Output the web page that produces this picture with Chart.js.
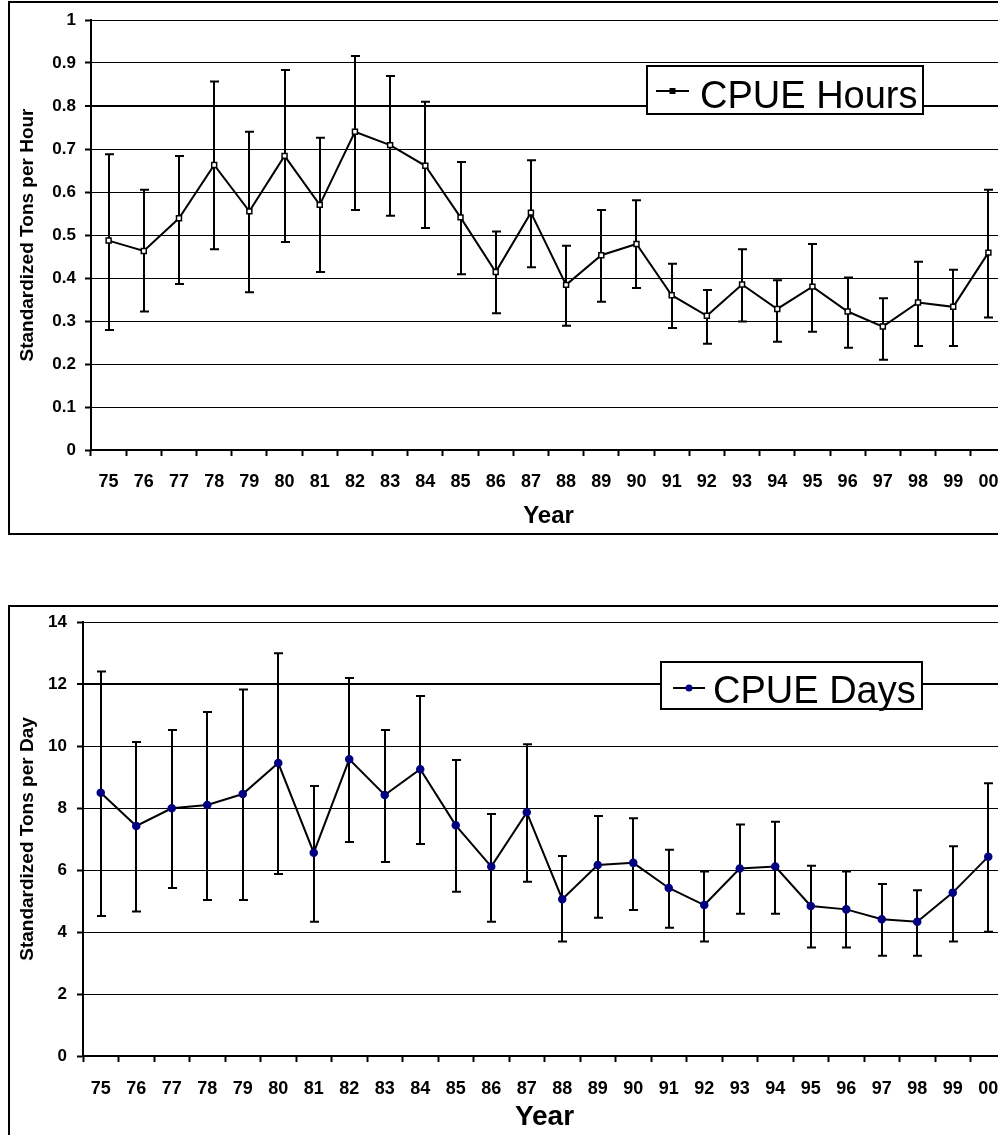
<!DOCTYPE html>
<html>
<head>
<meta charset="utf-8">
<title>CPUE Hours and Days</title>
<script src="https://cdn.jsdelivr.net/npm/chart.js@4.4.1/dist/chart.umd.min.js"></script>
<style>
    html, body { margin: 0; padding: 0; background: #fff; overflow: hidden; width: 998px; height: 1135px; }
    .frame { position: absolute; border: 2px solid #000; box-sizing: border-box; }
    #frame-hours { left: 8px; top: 1px; width: 1100px; height: 534px; }
    #frame-days { left: 8px; top: 605px; width: 1100px; height: 600px; }
    canvas { position: absolute; left: 0; }
    #chart-hours { top: 0; }
    #chart-days { top: 590px; }
</style>
</head>
<body>
<div class="frame" id="frame-hours"></div>
<div class="frame" id="frame-days"></div>
<canvas id="chart-hours" width="1030" height="535"></canvas>
<canvas id="chart-days" width="1030" height="545"></canvas>

<script>
// categories
const years = ['75', '76', '77', '78', '79', '80', '81', '82', '83', '84', '85', '86', '87',
               '88', '89', '90', '91', '92', '93', '94', '95', '96', '97', '98', '99', '00'];

// CPUE hours (standardized tons per hour) with error bar limits
const hoursMean = [0.487, 0.463, 0.539, 0.663, 0.555, 0.684, 0.570, 0.740, 0.709, 0.661, 0.541, 0.414, 0.552,
                   0.384, 0.453, 0.479, 0.360, 0.312, 0.385, 0.328, 0.380, 0.322, 0.287, 0.343, 0.333, 0.459];
const hoursLow = [0.279, 0.322, 0.386, 0.467, 0.367, 0.484, 0.414, 0.558, 0.545, 0.516, 0.409, 0.318, 0.425,
                  0.289, 0.345, 0.377, 0.284, 0.247, 0.299, 0.252, 0.275, 0.238, 0.210, 0.242, 0.242, 0.308];
const hoursHigh = [0.688, 0.605, 0.684, 0.857, 0.740, 0.884, 0.726, 0.916, 0.870, 0.810, 0.670, 0.508, 0.674,
                   0.475, 0.558, 0.581, 0.433, 0.372, 0.467, 0.395, 0.479, 0.401, 0.353, 0.438, 0.419, 0.605];

// CPUE days (standardized tons per day) with error bar limits
const daysMean = [8.49, 7.42, 7.99, 8.10, 8.45, 9.45, 6.56, 9.57, 8.42, 9.25, 7.44, 6.11, 7.86,
                  5.06, 6.16, 6.23, 5.42, 4.87, 6.05, 6.11, 4.84, 4.73, 4.41, 4.33, 5.27, 6.43];
const daysLow = [4.52, 4.66, 5.42, 5.03, 5.03, 5.87, 4.33, 6.90, 6.26, 6.84, 5.30, 4.33, 5.62,
                 3.69, 4.46, 4.71, 4.14, 3.69, 4.59, 4.59, 3.50, 3.50, 3.23, 3.23, 3.69, 4.01];
const daysHigh = [12.40, 10.13, 10.52, 11.10, 11.82, 12.99, 8.71, 12.19, 10.52, 11.61, 9.55, 7.81, 10.06,
                  6.45, 7.74, 7.67, 6.65, 5.95, 7.47, 7.56, 6.14, 5.95, 5.55, 5.35, 6.77, 8.80];

// tick labels
const hoursTicks = ['0', '0.1', '0.2', '0.3', '0.4', '0.5', '0.6', '0.7', '0.8', '0.9', '1'];
const daysTicks = ['0', '2', '4', '6', '8', '10', '12', '14'];

Chart.defaults.font.family = '"Liberation Sans", Arial, sans-serif';
Chart.defaults.color = '#000';

// vertical error bars with caps, drawn under the markers
const errorBars = {
    id: 'errorBars',
    beforeDatasetsDraw(chart) {
        const ctx = chart.ctx;
        const x = chart.scales.x;
        const y = chart.scales.y;
        chart.data.datasets.forEach((ds) => {
            if (!ds.errLow) return;
            ctx.save();
            ctx.strokeStyle = '#000';
            ctx.lineWidth = 2;
            ds.data.forEach((v, i) => {
                const px = Math.round(x.getPixelForValue(i));
                const lo = y.getPixelForValue(ds.errLow[i]);
                const hi = y.getPixelForValue(ds.errHigh[i]);
                ctx.beginPath();
                ctx.moveTo(px, lo);
                ctx.lineTo(px, hi);
                ctx.moveTo(px - 4, hi);
                ctx.lineTo(px + 5, hi);
                ctx.moveTo(px - 4, lo);
                ctx.lineTo(px + 5, lo);
                ctx.stroke();
            });
            ctx.restore();
        });
    }
};

// boxed legend sitting inside the plot, like the spreadsheet original
const boxLegend = {
    id: 'boxLegend',
    afterDraw(chart, args, opts) {
        const ctx = chart.ctx;
        const ds = chart.data.datasets[0];
        ctx.save();
        ctx.fillStyle = '#fff';
        ctx.fillRect(opts.x, opts.y, opts.w, opts.h);
        ctx.strokeStyle = '#000';
        ctx.lineWidth = 2;
        ctx.strokeRect(opts.x, opts.y, opts.w, opts.h);

        ctx.lineWidth = 2;
        ctx.beginPath();
        ctx.moveTo(opts.lineX1, opts.lineY);
        ctx.lineTo(opts.lineX2, opts.lineY);
        ctx.stroke();

        const mx = (opts.lineX1 + opts.lineX2) / 2;
        ctx.fillStyle = opts.markerColor;
        if (opts.marker === 'rect') {
            ctx.fillRect(mx - 3, opts.lineY - 3, 6, 6);
        } else {
            ctx.beginPath();
            ctx.arc(mx, opts.lineY, 3.5, 0, Math.PI * 2);
            ctx.fill();
        }

        ctx.fillStyle = '#000';
        ctx.font = '38px "Liberation Sans", Arial, sans-serif';
        ctx.textBaseline = 'alphabetic';
        ctx.fillText(ds.label, opts.textX, opts.textY);
        ctx.restore();
    }
};

function makeChart(canvasId, cfg) {
    const ctx = document.getElementById(canvasId).getContext('2d');
    return new Chart(ctx, {
        type: 'line',
        data: {
            labels: years,
            datasets: [{
                label: cfg.label,
                data: cfg.values,
                errLow: cfg.low,
                errHigh: cfg.high,
                borderColor: '#000',
                borderWidth: 2,
                pointStyle: cfg.pointStyle,
                pointRadius: cfg.pointRadius,
                pointBackgroundColor: cfg.pointFill,
                pointBorderColor: cfg.pointBorder,
                pointBorderWidth: 1.5,
                tension: 0
            }]
        },
        options: {
            responsive: false,
            animation: false,
            events: [],
            layout: { padding: { left: 0, top: cfg.top, right: 24, bottom: 0 } },
            plugins: {
                legend: { display: false },
                tooltip: { enabled: false },
                boxLegend: cfg.legend
            },
            scales: {
                x: {
                    offset: true,
                    grid: {
                        offset: true,
                        drawOnChartArea: false,
                        drawTicks: true,
                        tickLength: 6,
                        tickWidth: 2,
                        tickColor: '#000'
                    },
                    border: { display: true, color: '#000', width: 2 },
                    ticks: {
                        font: { size: 18, weight: 'bold' },
                        padding: cfg.xPad,
                        maxRotation: 0,
                        autoSkip: false
                    },
                    title: {
                        display: true,
                        text: 'Year',
                        font: { size: cfg.xTitleSize, weight: 'bold' },
                        padding: { top: 0, bottom: cfg.xTitlePad }
                    },
                    afterFit(scale) { scale.height = cfg.xHeight; }
                },
                y: {
                    min: 0,
                    max: cfg.max,
                    grid: {
                        color: '#000',
                        lineWidth: (c) => (c.tick && Math.abs(c.tick.value - cfg.thick) < 1e-6 ? 2 : 1),
                        tickLength: 6,
                        tickWidth: 2,
                        tickColor: '#000'
                    },
                    border: { display: true, color: '#000', width: 2 },
                    ticks: {
                        stepSize: cfg.step,
                        font: { size: 17, weight: 'bold' },
                        padding: cfg.yPad,
                        callback: (value, index) => cfg.tickLabels[index]
                    },
                    title: {
                        display: true,
                        text: cfg.yTitle,
                        font: { size: 19, weight: 'bold' },
                        padding: { top: 16, bottom: 0 }
                    },
                    afterFit(scale) { scale.width = cfg.yWidth; }
                }
            }
        },
        plugins: [errorBars, boxLegend]
    });
}

makeChart('chart-hours', {
    label: 'CPUE Hours',
    values: hoursMean,
    low: hoursLow,
    high: hoursHigh,
    pointStyle: 'rect',
    pointRadius: 3.5,
    pointFill: '#fff',
    pointBorder: '#000',
    top: 20,
    max: 1,
    step: 0.1,
    thick: 0.8,
    tickLabels: hoursTicks,
    yTitle: 'Standardized Tons per Hour',
    yWidth: 91,
    yPad: 9,
    xHeight: 85,
    xPad: 15,
    xTitleSize: 24,
    xTitlePad: 4,
    legend: { x: 647, y: 66, w: 276, h: 48, lineX1: 656, lineX2: 689, lineY: 91, marker: 'rect',
              markerColor: '#000', textX: 700, textY: 108 }
});

makeChart('chart-days', {
    label: 'CPUE Days',
    values: daysMean,
    low: daysLow,
    high: daysHigh,
    pointStyle: 'circle',
    pointRadius: 3.5,
    pointFill: '#000080',
    pointBorder: '#000080',
    top: 32,
    max: 14,
    step: 2,
    thick: 12,
    tickLabels: daysTicks,
    yTitle: 'Standardized Tons per Day',
    yWidth: 83,
    yPad: 10,
    xHeight: 79,
    xPad: 16,
    xTitleSize: 28,
    xTitlePad: 1,
    legend: { x: 661, y: 72, w: 261, h: 47, lineX1: 673, lineX2: 705, lineY: 98, marker: 'circle',
              markerColor: '#000080', textX: 713, textY: 113 }
});
</script>
</body>
</html>
